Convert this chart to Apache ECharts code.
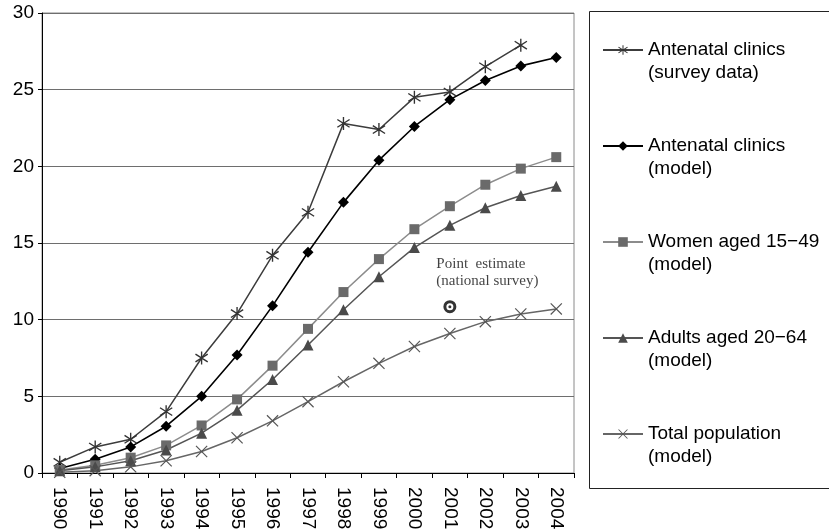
<!DOCTYPE html>
<html>
<head>
<meta charset="utf-8">
<script src="https://cdn.jsdelivr.net/npm/echarts@6/dist/echarts.min.js"></script>
<style>
html,body{margin:0;padding:0;background:#fff;}
#chart{width:829px;height:530px;}
</style>
</head>
<body>
<div id="chart"></div>
<script>
var years = ['1990','1991','1992','1993','1994','1995','1996','1997','1998','1999','2000','2001','2002','2003','2004'];
var yTicks = [0, 5, 10, 15, 20, 25, 30];

var seriesNames = [
  'Antenatal clinics (survey data)',
  'Antenatal clinics (model)',
  'Women aged 15-49 (model)',
  'Adults aged 20-64 (model)',
  'Total population (model)'
];
var legendLabels = [
  'Antenatal clinics\n(survey data)',
  'Antenatal clinics\n(model)',
  'Women aged 15\u221249\n(model)',
  'Adults aged 20\u221264\n(model)',
  'Total population\n(model)'
];

var antenatalSurvey = [0.7, 1.7, 2.2, 4.0, 7.5, 10.4, 14.2, 17.0, 22.8, 22.4, 24.5, 24.85, 26.5, 27.9];
var antenatalModel  = [0.3, 0.9, 1.7, 3.05, 5.0, 7.7, 10.9, 14.4, 17.65, 20.4, 22.6, 24.35, 25.6, 26.55, 27.1];
var women1549       = [0.2, 0.5, 1.0, 1.8, 3.1, 4.8, 7.0, 9.4, 11.8, 13.95, 15.9, 17.4, 18.8, 19.85, 20.6];
var adults2064      = [0.15, 0.4, 0.8, 1.5, 2.6, 4.1, 6.1, 8.35, 10.65, 12.8, 14.7, 16.15, 17.3, 18.1, 18.7];
var totalPop        = [0.05, 0.15, 0.4, 0.8, 1.4, 2.3, 3.4, 4.65, 5.95, 7.15, 8.25, 9.1, 9.87, 10.37, 10.7];

var pointEstimateYear = '2001';
var pointEstimateValue = 10.85;
var pointEstimateLabel = 'Point  estimate\n(national survey)';

var asteriskPath = 'path://M9,0L11,0L11,20L9,20Z M1.555,3.168L19.555,15.168L18.445,16.832L0.445,4.832Z M0.445,15.168L18.445,3.168L19.555,4.832L1.555,16.832Z';
var crossPath = 'path://M1.4,0L20,18.6L18.6,20L0,1.4Z M18.6,0L20,1.4L1.4,20L0,18.6Z';

var FONT = '"Liberation Sans", Arial, Helvetica, sans-serif';

function lineSeries(name, data, lineColor, markColor, symbol, size, width) {
  return {
    name: name,
    type: 'line',
    data: data,
    symbol: symbol,
    symbolSize: size,
    showSymbol: true,
    lineStyle: { color: lineColor, width: width },
    itemStyle: { color: markColor, borderWidth: 0 },
    emphasis: { disabled: true },
    z: 3
  };
}

var chart = echarts.init(document.getElementById('chart'), null, { renderer: 'canvas' });

chart.setOption({
  animation: false,
  backgroundColor: '#fff',
  textStyle: { fontFamily: FONT },
  grid: {
    left: 42, right: 255, top: 13, bottom: 57,
    containLabel: false,
    outerBoundsMode: 'none',
    show: true, borderColor: '#8a8a8a', borderWidth: 1
  },
  graphic: [{
    type: 'rect',
    shape: { x: 589.5, y: 11.5, width: 260, height: 477 },
    style: { fill: 'none', stroke: '#222', lineWidth: 1 },
    silent: true
  }],
  legend: {
    orient: 'vertical',
    left: 602, top: 15.5,
    padding: 0,
    itemWidth: 40, itemHeight: 12, itemGap: 27,
    data: seriesNames,
    selectedMode: false,
    formatter: function (n) { return '\n' + legendLabels[seriesNames.indexOf(n)]; },
    textStyle: { fontFamily: FONT, fontSize: 19, lineHeight: 23, color: '#000' }
  },
  xAxis: {
    type: 'category',
    data: years,
    boundaryGap: true,
    axisLine: { lineStyle: { color: '#000', width: 1 } },
    axisTick: { show: true, length: 5, lineStyle: { color: '#000' }, alignWithLabel: false },
    axisLabel: { rotate: -90, fontSize: 19, color: '#000', margin: 14, fontFamily: FONT, interval: 0 },
    splitLine: { show: false }
  },
  yAxis: {
    type: 'value',
    min: yTicks[0], max: yTicks[yTicks.length - 1], interval: yTicks[1] - yTicks[0],
    axisLine: { show: true, lineStyle: { color: '#000', width: 1 } },
    axisTick: { show: true, length: 4, lineStyle: { color: '#000' } },
    axisLabel: { fontSize: 19, color: '#000', margin: 8, fontFamily: FONT },
    splitLine: { show: true, lineStyle: { color: '#6e6e6e', width: 1 } }
  },
  series: [
    lineSeries(seriesNames[0], antenatalSurvey, '#3c3c3c', '#333', asteriskPath, 13, 1.5),
    lineSeries(seriesNames[1], antenatalModel, '#000', '#000', 'diamond', 11, 1.6),
    lineSeries(seriesNames[2], women1549, '#8c8c8c', '#6a6a6a', 'rect', 10, 1.5),
    lineSeries(seriesNames[3], adults2064, '#555', '#4a4a4a', 'triangle', 11, 1.5),
    lineSeries(seriesNames[4], totalPop, '#666', '#555', crossPath, 12, 1.5),
    {
      name: 'Point estimate',
      type: 'scatter',
      data: [[pointEstimateYear, pointEstimateValue]],
      symbol: 'circle',
      symbolSize: 10,
      itemStyle: { color: '#fff', borderColor: '#000', borderWidth: 3 },
      emphasis: { disabled: true },
      label: {
        show: true,
        position: [-7, -45],
        align: 'left',
        verticalAlign: 'top',
        formatter: pointEstimateLabel,
        fontFamily: '"Liberation Serif", "Times New Roman", serif',
        fontSize: 15,
        lineHeight: 17,
        color: '#111'
      },
      z: 5
    },
    {
      name: 'Point estimate centre',
      type: 'scatter',
      data: [[pointEstimateYear, pointEstimateValue]],
      symbol: 'circle',
      symbolSize: 3,
      itemStyle: { color: '#000' },
      emphasis: { disabled: true },
      z: 6
    }
  ]
});
</script>
</body>
</html>
